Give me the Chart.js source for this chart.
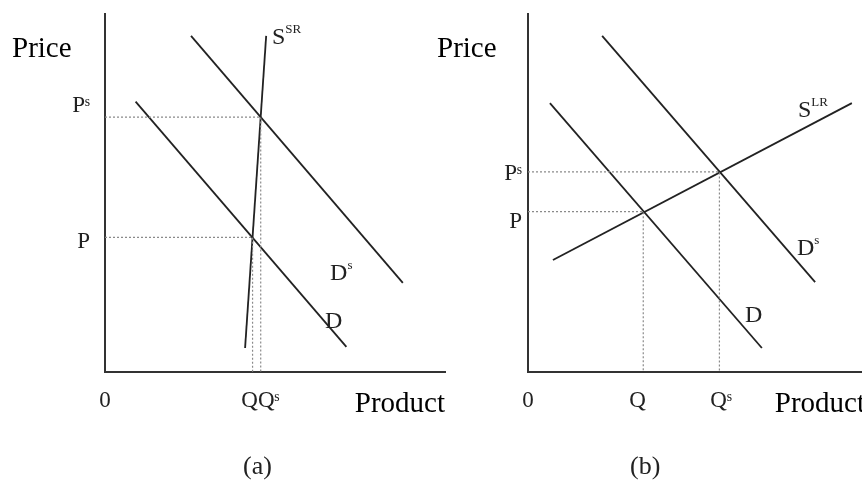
<!DOCTYPE html>
<html>
<head>
<meta charset="utf-8">
<script src="https://cdn.jsdelivr.net/npm/chart.js@4.4.0/dist/chart.umd.min.js"></script>
<style>
html, body { margin: 0; padding: 0; width: 862px; height: 484px; overflow: hidden; background: #fff; }
canvas { position: absolute; top: 0; }
#chartA { left: 0; }
#chartB { left: 430px; }
.txt { position: absolute; font-family: 'Liberation Serif', 'Times New Roman', serif; color: #000; white-space: nowrap; line-height: 1; }
</style>
</head>
<body>
<canvas id="chartA" width="460" height="484"></canvas>
<canvas id="chartB" width="440" height="484"></canvas>
<div class="txt" style="left:12px;top:33px;font-size:29px">Price</div>
<div class="txt" style="left:437px;top:33px;font-size:29px">Price</div>
<div class="txt" style="left:243px;top:453px;font-size:26px;color:#222">(a)</div>
<div class="txt" style="left:630px;top:453px;font-size:26px;color:#222">(b)</div>
<script>
// Panel (a): oferta de corto plazo (unidades arbitrarias 0-10)
const demandaA = [{x: 0.9, y: 7.55}, {x: 7.1, y: 0.7}];
const demandaSA = [{x: 2.53, y: 9.39}, {x: 8.76, y: 2.49}];
const ofertaSR = [{x: 4.12, y: 0.67}, {x: 4.74, y: 9.39}];
const equilibrioA = [4.34, 3.76];   // Q, P
const equilibrioSA = [4.58, 7.12];  // Qs, Ps

// Panel (b): oferta de largo plazo
const demandaB = [{x: 0.65, y: 7.51}, {x: 6.94, y: 0.67}];
const demandaSB = [{x: 2.2, y: 9.39}, {x: 8.52, y: 2.51}];
const ofertaLR = [{x: 0.74, y: 3.13}, {x: 9.61, y: 7.51}];
const equilibrioB = [3.42, 4.48];
const equilibrioSB = [5.68, 5.59];

// Marcas de los ejes
const xTicksA = [0, 4.57];
const xLabelsA = ['0', 'QQˢ'];
const yTicksA = [3.63, 7.43];
const yLabelsA = ['P', 'Pˢ'];
const xTicksB = [0, 3.25, 5.73];
const xLabelsB = ['0', 'Q', 'Qˢ'];
const yTicksB = [4.19, 5.53];
const yLabelsB = ['P', 'Pˢ'];

// Etiquetas de las curvas
const etiquetasA = [
    {text: 'S', sup: 'SR', x: 4.91, y: 9.16},
    {text: 'D', sup: 's', x: 6.62, y: 2.57},
    {text: 'D', sup: '', x: 6.47, y: 1.23}
];
const etiquetasB = [
    {text: 'S', sup: 'LR', x: 8.01, y: 7.12},
    {text: 'D', sup: 's', x: 7.98, y: 3.27},
    {text: 'D', sup: '', x: 6.44, y: 1.4}
];

const SERIF = "'Liberation Serif', 'Times New Roman', serif";

// Plugin para dibujar las etiquetas con superíndice
const etiquetasPlugin = {
    id: 'etiquetas',
    afterDatasetsDraw(chart, args, opts) {
        const ctx = chart.ctx;
        const sx = chart.scales.x, sy = chart.scales.y;
        ctx.save();
        ctx.fillStyle = '#222';
        ctx.textBaseline = 'alphabetic';
        ctx.textAlign = 'left';
        opts.items.forEach(it => {
            const px = sx.getPixelForValue(it.x);
            const py = sy.getPixelForValue(it.y);
            ctx.font = '24px ' + SERIF;
            ctx.fillText(it.text, px, py);
            if (it.sup) {
                const w = ctx.measureText(it.text).width;
                ctx.font = '13px ' + SERIF;
                ctx.fillText(it.sup, px + w, py - 11);
            }
        });
        ctx.restore();
    }
};

function linea(data) {
    return {data: data, showLine: true, borderColor: '#222', borderWidth: 1.8, pointRadius: 0, fill: false};
}

function guia(q, p) {
    return {
        data: [{x: 0, y: p}, {x: q, y: p}, {x: q, y: 0}],
        showLine: true, borderColor: '#8a8a8a', borderWidth: 1.2, borderDash: [2, 2], pointRadius: 0, fill: false
    };
}

function escalas(xTicks, xLabels, yTicks, yLabels, anchoY, padY) {
    return {
        x: {
            type: 'linear', min: 0, max: 10,
            grid: {display: false, drawTicks: false},
            border: {display: true, color: '#333', width: 2},
            afterBuildTicks: s => { s.ticks = xTicks.map(v => ({value: v})); },
            afterFit: s => { s.height = 112; s.paddingLeft = 0; s.paddingRight = 0; },
            ticks: {
                padding: 15, autoSkip: false, maxRotation: 0, color: '#222',
                font: {family: SERIF, size: 23},
                callback: (v, i) => xLabels[i]
            },
            title: {
                display: true, text: 'Product', align: 'end', color: '#000',
                font: {family: SERIF, size: 29}, padding: {top: 0, bottom: 62}
            }
        },
        y: {
            type: 'linear', min: 0, max: 10,
            grid: {display: false, drawTicks: false},
            border: {display: true, color: '#333', width: 2},
            afterBuildTicks: s => { s.ticks = yTicks.map(v => ({value: v})); },
            afterFit: s => { s.width = anchoY; s.paddingTop = 0; s.paddingBottom = 0; },
            ticks: {
                padding: padY, autoSkip: false, color: '#222',
                font: {family: SERIF, size: 23},
                callback: (v, i) => yLabels[i]
            }
        }
    };
}

function crearGrafico(id, datasets, esc, etiquetas, padDer) {
    const ctx = document.getElementById(id).getContext('2d');
    return new Chart(ctx, {
        type: 'scatter',
        data: {datasets: datasets},
        options: {
            responsive: false,
            animation: false,
            layout: {padding: {top: 14, right: padDer, left: 0, bottom: 0}},
            scales: esc,
            plugins: {
                legend: {display: false},
                tooltip: {enabled: false},
                etiquetas: {items: etiquetas}
            }
        },
        plugins: [etiquetasPlugin]
    });
}

crearGrafico('chartA', [
    guia(equilibrioA[0], equilibrioA[1]),
    guia(equilibrioSA[0], equilibrioSA[1]),
    linea(demandaA),
    linea(demandaSA),
    linea(ofertaSR)
], escalas(xTicksA, xLabelsA, yTicksA, yLabelsA, 105, 15), etiquetasA, 15);

crearGrafico('chartB', [
    guia(equilibrioB[0], equilibrioB[1]),
    guia(equilibrioSB[0], equilibrioSB[1]),
    linea(demandaB),
    linea(demandaSB),
    linea(ofertaLR)
], escalas(xTicksB, xLabelsB, yTicksB, yLabelsB, 98, 6), etiquetasB, 5);
</script>
</body>
</html>
